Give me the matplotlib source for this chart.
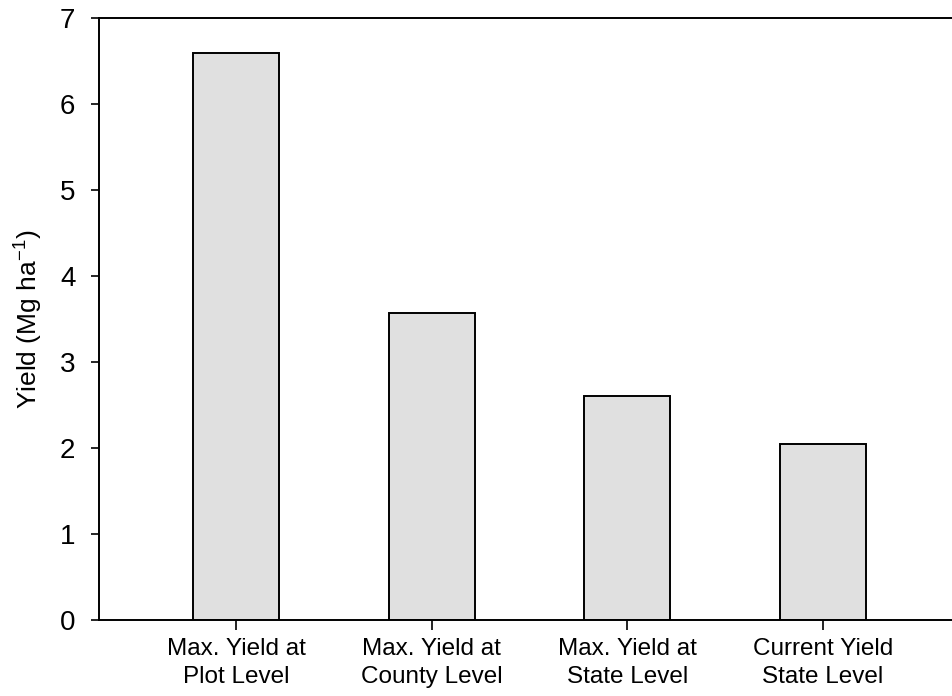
import matplotlib
matplotlib.use('Agg')
import matplotlib.pyplot as plt
import numpy as np

plt.rcParams['font.family'] = ['Liberation Sans', 'DejaVu Sans']
plt.rcParams['mathtext.default'] = 'regular'

labels = ['Max. Yield at\nPlot Level', 'Max. Yield at\nCounty Level',
          'Max. Yield at\nState Level', 'Current Yield\nState Level']
yields = [6.59, 3.57, 2.61, 2.05]

x = np.arange(len(labels))
width = 0.44

fig = plt.figure(figsize=(9.53, 6.96), dpi=100)
ax = fig.add_axes([99 / 953, 1 - 620 / 696, 854 / 953, 602 / 696])

ax.bar(x, yields, width, color='#e0e0e0', edgecolor='black', linewidth=1.4)

ax.set_xlim(-0.70, 3.664)
ax.set_ylim(0, 7)
ax.set_xticks(x)
ax.set_xticklabels(labels, fontsize=17.5, linespacing=1.35)
ax.set_yticks(range(8))
ax.tick_params(axis='y', labelsize=20, length=6, width=1.2, direction='out', pad=11)
ax.tick_params(axis='x', length=7, width=1.2, direction='out', pad=6)
ax.set_ylabel('Yield (Mg ha$^{-1}$)', fontsize=19, labelpad=11)

ax.spines['right'].set_visible(False)
for s in ['left', 'top', 'bottom']:
    ax.spines[s].set_linewidth(1.4)

fig.savefig('out.png', dpi=100)
